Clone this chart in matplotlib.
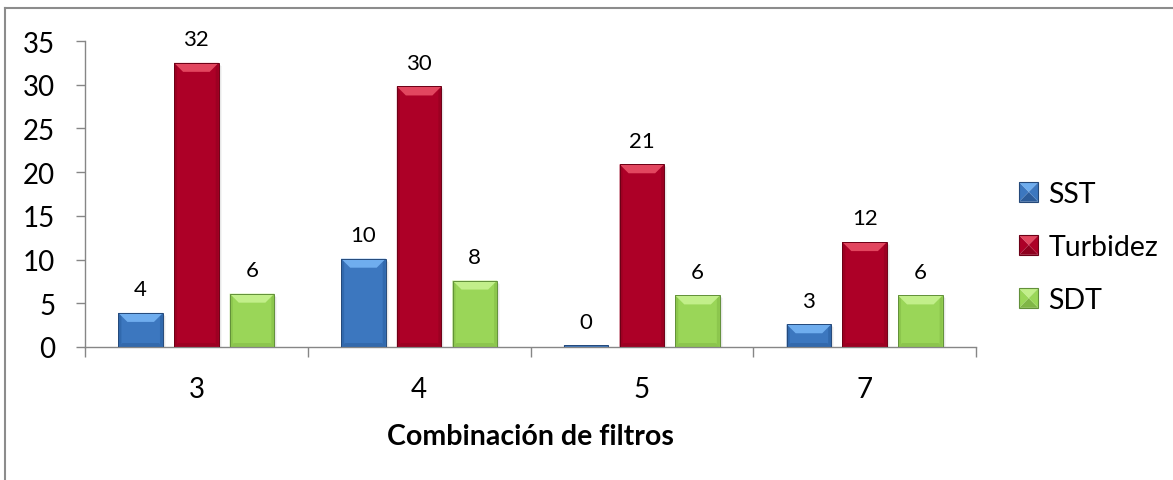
import numpy as np
import matplotlib.pyplot as plt
from matplotlib.patches import Polygon, Patch
from matplotlib.lines import Line2D
from matplotlib.legend_handler import HandlerBase
from matplotlib.transforms import IdentityTransform

plt.rcParams['font.family'] = ['Lato', 'DejaVu Sans']

# datos por combinación de filtros
categorias = ['3', '4', '5', '7']
sst = [3.9, 10.1, 0.2, 2.6]
turbidez = [32.5, 29.8, 20.9, 12.0]
sdt = [6.1, 7.6, 5.9, 5.9]
nombres = ['SST', 'Turbidez', 'SDT']
y_ticks = [0, 5, 10, 15, 20, 25, 30, 35]

# colores: base, bisel claro, lateral, bisel oscuro, borde
paletas = {
    'SST':      dict(main='#3c77bf', light='#6fadee', side='#3169ad', dark='#2c5c9a', edge='#25497a'),
    'Turbidez': dict(main='#ad0027', light='#e2465f', side='#9c0022', dark='#8e001e', edge='#6c0016'),
    'SDT':      dict(main='#9ad658', light='#c2ef8a', side='#8cc64d', dark='#80b646', edge='#62903a'),
}


def bisel(ax, x, h, w, pal):
    # dibuja sombra y biseles de cada barra en coordenadas de pantalla
    x0, y0 = ax.transData.transform((x - w / 2, 0))
    x1, y1 = ax.transData.transform((x + w / 2, h))
    alto = y1 - y0
    t = min(9.0, alto * 0.5)
    s = min(3.0, alto * 0.3)
    b = min(4.0, alto * 0.3)
    idt = IdentityTransform()
    for k, a in [(3, 0.04), (2, 0.06), (1, 0.07)]:
        ax.add_patch(Polygon([(x0 + k, y0 - k), (x1 + k, y0 - k), (x1 + k, y1 - k), (x0 + k, y1 - k)],
                             closed=True, facecolor='black', edgecolor='none', alpha=a,
                             transform=idt, zorder=1))
    ax.add_patch(Polygon([(x0, y0), (x0, y1), (x0 + s, y1 - s), (x0 + s, y0 + s)], closed=True,
                         facecolor=pal['side'], edgecolor='none', transform=idt, zorder=3))
    ax.add_patch(Polygon([(x1, y0), (x1, y1), (x1 - s, y1 - s), (x1 - s, y0 + s)], closed=True,
                         facecolor=pal['side'], edgecolor='none', transform=idt, zorder=3))
    ax.add_patch(Polygon([(x0, y0), (x1, y0), (x1 - b, y0 + b), (x0 + b, y0 + b)], closed=True,
                         facecolor=pal['dark'], edgecolor='none', alpha=0.5, transform=idt, zorder=3))
    ax.add_patch(Polygon([(x0, y1), (x1, y1), (x1 - t, y1 - t), (x0 + t, y1 - t)], closed=True,
                         facecolor=pal['light'], edgecolor='none', transform=idt, zorder=3))
    ax.add_patch(Polygon([(x0, y1), (x1, y1), (x1, y0), (x0, y0)], closed=True,
                         facecolor='none', edgecolor=pal['edge'], linewidth=0.7, transform=idt, zorder=4))


class ManejadorBisel(HandlerBase):
    def __init__(self, pal):
        super().__init__()
        self.pal = pal

    def create_artists(self, legend, orig_handle, xdescent, ydescent, width, height, fontsize, trans):
        x0, y0 = -xdescent, -ydescent
        x1, y1 = x0 + width, y0 + height
        cx, cy = (x0 + x1) / 2, (y0 + y1) / 2
        p = self.pal
        piezas = [
            ([(x0, y1), (x1, y1), (cx, cy)], p['light']),
            ([(x0, y0), (x1, y0), (cx, cy)], p['dark']),
            ([(x0, y0), (x0, y1), (cx, cy)], p['main']),
            ([(x1, y0), (x1, y1), (cx, cy)], p['main']),
        ]
        arts = []
        for pts, c in piezas:
            arts.append(Polygon(pts, closed=True, facecolor=c, edgecolor='none', transform=trans))
        arts.append(Polygon([(x0, y0), (x1, y0), (x1, y1), (x0, y1)], closed=True, facecolor='none',
                            edgecolor=p['edge'], linewidth=0.8, transform=trans))
        return arts


fig = plt.figure(figsize=(11.73, 4.81), dpi=100)
ax = fig.add_axes([85 / 1173, 1 - 348 / 481, (976 - 85) / 1173, (348 - 42) / 481])
ax.set_xlim(-0.5, len(categorias) - 0.5)
ax.set_ylim(0, 35)

x = np.arange(len(categorias))
ancho = 0.2
desp = [-0.25, 0, 0.25]
for nombre, valores, d in zip(nombres, [sst, turbidez, sdt], desp):
    pal = paletas[nombre]
    ax.bar(x + d, valores, ancho, color=pal['main'], edgecolor='none', zorder=2)
    for xi, v in zip(x + d, valores):
        bisel(ax, xi, v, ancho, pal)
        ax.annotate(f'{v:.0f}', (xi, v), xytext=(0, 17), textcoords='offset points',
                    ha='center', va='center', fontsize=16, color='black')

# ejes al estilo de Excel
gris = '#868686'
for lado in ['top', 'right']:
    ax.spines[lado].set_visible(False)
for lado in ['left', 'bottom']:
    ax.spines[lado].set_color(gris)
    ax.spines[lado].set_linewidth(1.0)

ax.set_yticks(y_ticks)
ax.tick_params(axis='y', length=6.5, width=1, color=gris, pad=15, labelsize=20)
ax.set_xticks(x)
ax.set_xticklabels(categorias)
ax.set_xticks(np.arange(-0.5, len(categorias)), minor=True)
ax.tick_params(axis='x', which='major', length=0, pad=21, labelsize=20)
ax.tick_params(axis='x', which='minor', length=7, width=1, color=gris)

ax.set_xlabel('Combinación de filtros', fontsize=20.5, fontweight='bold')
ax.xaxis.set_label_coords(0.5, -(437 - 348) / 306)
ax.xaxis.label.set_va('center')

# leyenda a la derecha
handles = [Patch(facecolor=paletas[n]['main']) for n in nombres]
mapa = {h: ManejadorBisel(paletas[n]) for h, n in zip(handles, nombres)}
fig.legend(handles, nombres, handler_map=mapa, loc='center left',
           bbox_to_anchor=(1019 / 1173, 1 - 248 / 481), frameon=False, fontsize=20.5,
           handlelength=0.68, handleheight=0.68, handletextpad=0.35, labelspacing=0.95,
           borderpad=0, borderaxespad=0)

# marco del área del gráfico
fig.add_artist(Line2D([5 / 1173, 5 / 1173], [0, 1 - 9 / 481], color='#8c8c8c', linewidth=1.5,
                      transform=fig.transFigure))
fig.add_artist(Line2D([5 / 1173, 1], [1 - 9 / 481, 1 - 9 / 481], color='#8c8c8c', linewidth=1.5,
                      transform=fig.transFigure))

fig.savefig('out.png', dpi=100)
